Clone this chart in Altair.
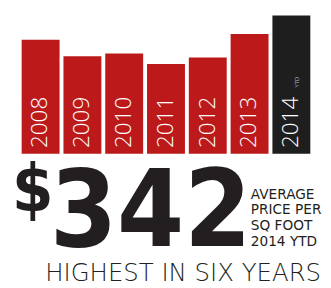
import altair as alt
import pandas as pd

years = ["2008", "2009", "2010", "2011", "2012", "2013", "2014"]
values = [282, 241, 248, 222, 238, 296, 342]
colors = ["#BC1A1A", "#BC1A1A", "#BC1A1A", "#BC1A1A", "#BC1A1A", "#BC1A1A", "#1E1E1E"]

df = pd.DataFrame({"year": years, "value": values, "color": colors})
one = pd.DataFrame({"k": [0]})

x = alt.X("year:N", axis=None,
          scale=alt.Scale(range=[14, 310], paddingInner=0.093, paddingOuter=0))
y = alt.Y("value:Q", axis=None, scale=alt.Scale(domain=[0, 352], range=[146, 0]))

bars = alt.Chart(df).mark_bar().encode(
    x=x, y=y, color=alt.Color("color:N", scale=None)
)

labels = alt.Chart(df).mark_text(
    angle=270, align="left", baseline="middle", color="white",
    font="Open Sans", fontSize=23, fontWeight=300
).encode(x=x, y=alt.value(140), text="year:N")

ytd = alt.Chart(one).mark_text(
    angle=270, align="left", baseline="middle", color="#BBBBBB",
    font="Open Sans", fontSize=6
).encode(x=alt.value(296), y=alt.value(78), text=alt.value("YTD"))

dollar = alt.Chart(one).mark_text(
    align="left", baseline="alphabetic", color="#231F20",
    font="DejaVu Sans Condensed", fontSize=68, fontWeight="bold"
).encode(x=alt.value(4), y=alt.value(205), text=alt.value("$"))

big = alt.Chart(one).mark_text(
    align="left", baseline="alphabetic", color="#231F20",
    font="DejaVu Sans Condensed", fontSize=110, fontWeight="bold"
).encode(x=alt.value(43), y=alt.value(241), text=alt.value("342"))

side = alt.Chart(one).mark_text(
    align="left", baseline="alphabetic", color="#231F20",
    font="DejaVu Sans", fontSize=14, lineHeight=16, lineBreak="\n"
).encode(x=alt.value(249), y=alt.value(192),
         text=alt.value("AVERAGE\nPRICE PER\nSQ FOOT\n2014 YTD"))

bottom = alt.Chart(one).mark_text(
    align="right", baseline="alphabetic", color="#231F20",
    font="DejaVu Sans", fontSize=25, fontWeight=200
).encode(x=alt.value(321), y=alt.value(276), text=alt.value("HIGHEST IN SIX YEARS"))

chart = alt.layer(bars, labels, ytd, dollar, big, side, bottom).properties(
    width=323, height=280, padding=0, autosize=alt.AutoSizeParams(type="none")
).configure_view(stroke=None)

chart.save("out.html", embed_options={"renderer": "svg", "actions": False})
